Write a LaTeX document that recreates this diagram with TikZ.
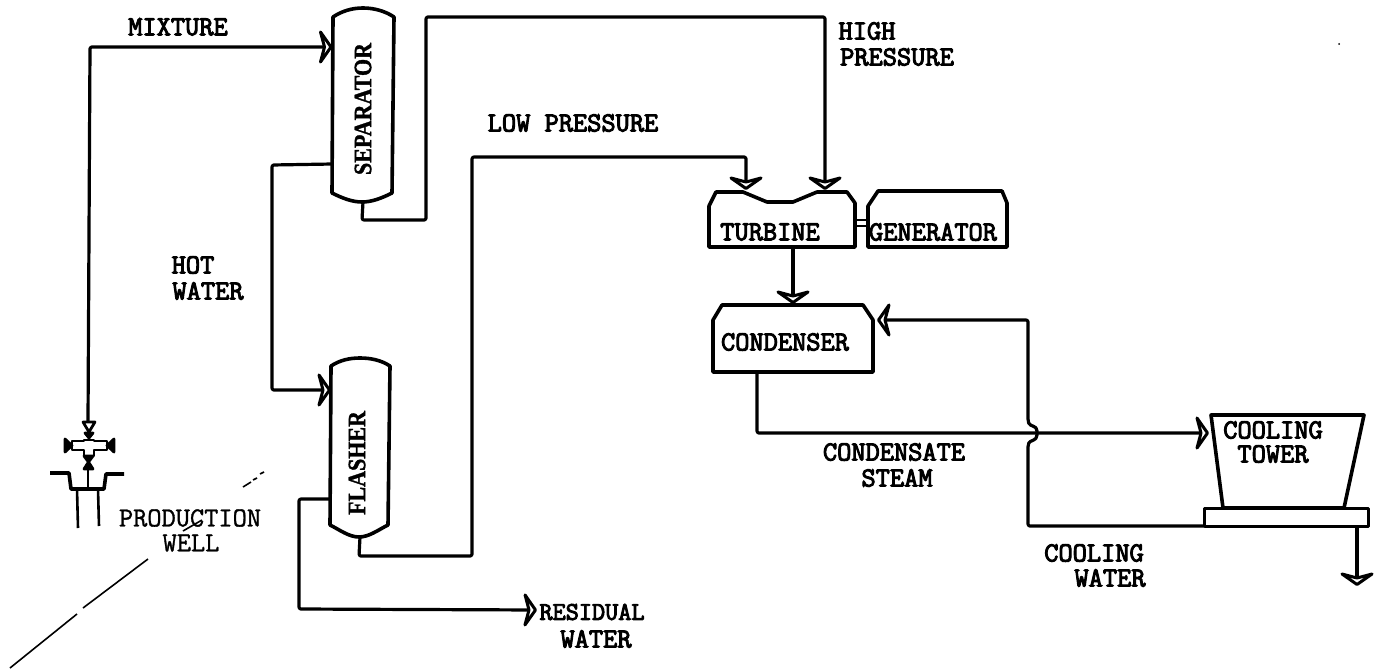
\documentclass[tikz,border=0pt]{standalone}
\usepackage{fontspec}
\newfontfamily\vesselfont{Liberation Serif Bold}[FakeStretch=0.88,FakeBold=1.2]
\newfontfamily\monobold{Latin Modern Mono}[FakeBold=3.6]
\newfontfamily\monoplain{Latin Modern Mono}[FakeBold=1.2]
\usetikzlibrary{arrows.meta}
\pgfdeclarearrow{
  name=Chev,
  setup code={
    \pgfarrowssettipend{0pt}
    \pgfarrowssetlineend{-8pt}
    \pgfarrowssetvisualbackend{-8pt}
    \pgfarrowssetbackend{-13pt}
    \pgfarrowshullpoint{0pt}{0pt}
    \pgfarrowshullpoint{-13pt}{16pt}
    \pgfarrowshullpoint{-13pt}{-16pt}
  },
  drawing code={
    \pgfsetlinewidth{3pt}
    \pgfsetroundjoin
    \pgfpathmoveto{\pgfpoint{-1.5pt}{0pt}}
    \pgfpathlineto{\pgfpoint{-12pt}{15pt}}
    \pgfpathlineto{\pgfpoint{-8pt}{0pt}}
    \pgfpathlineto{\pgfpoint{-12pt}{-15pt}}
    \pgfpathclose
    \pgfusepathqstroke
  },
  defaults={}
}
\tikzset{
  every node/.style={inner sep=0pt,outer sep=0pt},
  pipe/.style={line width=3.2pt,line join=round,rounded corners=2pt},
  outline/.style={line width=3.6pt,line join=round},
  chev/.style={-{Chev[]}},
  slot/.style={rectangle,minimum width=#1},
  lab/.style={font=\fontsize{27.6}{28}\monobold},
  lablight/.style={font=\fontsize{27.6}{28}\monoplain},
  vlab/.style={font=\fontsize{25}{26}\vesselfont,rotate=90},
  crack/.style={line width=1.6pt},
}
\begin{document}
\begin{tikzpicture}[x=1pt,y=-1pt]
\useasboundingbox (0,0) rectangle (1378,669);
% equipment outlines
\draw[outline] (333,17) .. controls (342,11) and (352,8) .. (363,8) .. controls (374,8) and (385,11) .. (394,17) -- (392,193) .. controls (382,198) and (372,202) .. (362,202) .. controls (352,202) and (342,198) .. (332,193) -- cycle;
\draw[outline] (331,366) .. controls (340,360) and (350,358) .. (360,358) .. controls (370,358) and (381,360) .. (390,366) -- (388,525) .. controls (378,530) and (369,537) .. (359,537) .. controls (349,537) and (340,530) .. (330,525) -- cycle;
\draw[outline] (709,247) -- (709,206) -- (716,192) -- (743,192) -- (767,202) -- (793,202) -- (817,192) -- (847,192) -- (855,203) -- (855,247) -- cycle;
\draw[outline] (868,247) -- (868,206) -- (878,191) -- (1002,191) -- (1007,203) -- (1007,247) -- cycle;
\draw[outline] (713,372) -- (713,320) -- (722,305) -- (863,305) -- (873,320) -- (873,372) -- cycle;
\draw[outline] (1211,415) -- (1364,415) -- (1344,508) -- (1223,508) -- cycle;
\draw[outline,line width=3pt] (1204,508) rectangle (1368,526);
% anchors
\node[slot=61pt,minimum height=194pt] (sep) at (363,105) {};
\node[slot=58pt,minimum height=179pt] (fla) at (360,447.5) {};
\node[slot=146pt,minimum height=55pt] (tur) at (782,219.5) {};
\node[slot=139pt,minimum height=56pt] (gen) at (937.5,219) {};
\node[slot=160pt,minimum height=67pt] (con) at (793,338.5) {};
\node[slot=157pt,minimum height=93pt] (tow) at (1287.5,461.5) {};
\node[slot=164pt,minimum height=18pt] (bas) at (1286,517) {};
\node[slot=40pt,minimum height=60pt] (wel) at (88,452) {};
% named ports
\coordinate (sepin) at (sep.west|-0,47);
\coordinate (sepwa) at (sep.west|-0,164);
\coordinate (flain) at (fla.west|-0,390);
\coordinate (flaout) at (fla.west|-0,499);
\coordinate (turlp) at (746,190);
\coordinate (turhp) at (825,190);
\coordinate (conin) at (877,320);
\coordinate (towin) at (tow.west|-0,433);
\coordinate (bleft) at (bas.south west);
\coordinate (drain) at (1357,526);
\coordinate (drainend) at (1357,586);
\coordinate (resend) at (537,610);
% pipes
\draw[pipe,chev] (wel.north) -- (90,47) -- (sepin);
\draw[pipe,chev] (sepwa) -- (272,165) -- (272,390) -- (flain);
\draw[pipe,chev] (sep.south) -- (362,220) -- (426,220) -- (426,17) -- (825,17) -- (turhp);
\draw[pipe,chev] (fla.south) -- (359,556) -- (472,556) -- (472,157) -- (746,157) -- (turlp);
\draw[pipe,chev] (flaout) -- (299,499) -- (299,609) -- (resend);
\draw[pipe,chev] (tur.south-|793,0) -- (793,304);
\draw[pipe,chev] (con.south-|757,0) -- (757,433) -- (towin);
\draw[pipe,chev] (bleft) -- (1028,526) -- (1028,445) .. controls (1030,440) and (1037,441) .. (1037,433) .. controls (1037,425) and (1030,427) .. (1028,421) -- (1028,320) -- (conin);
\draw[pipe,chev] (drain) -- (drainend);
% shaft
\draw[line width=2.4pt] (tur.east|-0,220) -- (gen.west|-0,220);
\draw[line width=2.4pt] (tur.east|-0,226) -- (gen.west|-0,226);
% wellhead
\begin{scope}[line width=2.8pt,line join=round]
\draw (88,450) -- (88,489);
\filldraw[fill=white] (83,422) -- (95,422) -- (89,432) -- cycle;
\filldraw[fill=black] (85,433) -- (93,433) -- (89,438) -- cycle;
\filldraw[fill=white] (84,440) -- (94,440) -- (94,441) -- (107,441) -- (107,450) -- (94,450) -- (94,456) -- (84,456) -- (84,450) -- (72,450) -- (72,441) -- (84,441) -- cycle;
\fill[white] (83,442) rectangle (95,449);
\fill[white] (85,441) rectangle (93,452);
\filldraw[fill=black] (65,439) -- (65,452) -- (72,445.5) -- cycle;
\filldraw[fill=black] (114,439) -- (114,452) -- (107,445.5) -- cycle;
\filldraw[fill=black] (84,456) -- (93,456) -- (88.5,462) -- (93,469) -- (84,469) -- (88.5,462) -- cycle;
\end{scope}
\draw[outline] (50,473) -- (69,473) -- (71,489) -- (104,489) -- (106,474) -- (124,474);
\draw[outline,line width=2.6pt] (77,489) -- (78,528);
\draw[outline,line width=2.6pt] (98,489) -- (99,526);
% crack
\draw[crack] (10,668) -- (77,614);
\draw[crack] (83,608) -- (148,559);
\draw[crack] (183,531) -- (202,520);
\draw[crack] (243,487) -- (251,482);
\draw[crack] (253,480) -- (257,478);
\draw[crack] (260,474) -- (264,472);
% vessel labels
\node[vlab] (tsep) at (363,109) {SEPARATOR};
\node[vlab] (tfla) at (357,463) {FLASHER};
% texts
\node[lab] (t1) at (178,27) {MIXTURE};
\node[lab] (t2) at (867,31) {HIGH};
\node[lab] (t3) at (897,57) {PRESSURE};
\node[lab] (t4) at (573,123) {LOW PRESSURE};
\node[lab] (t5) at (193,265) {HOT};
\node[lab] (t6) at (208,291) {WATER};
\node[lab] (t7) at (770,232) {TURBINE};
\node[lab] (t8) at (933,232) {GENERATOR};
\node[lab] (t9) at (785,342) {CONDENSER};
\node[lab] (t10) at (894,452) {CONDENSATE};
\node[lab] (t11) at (897,478) {STEAM};
\node[lab] (t12) at (1273,430) {COOLING};
\node[lab] (t13) at (1273,454) {TOWER};
\node[lab] (t14) at (1094,553) {COOLING};
\node[lab] (t15) at (1110,578) {WATER};
\node[lab,font=\fontsize{25.5}{26}\monobold] (t16) at (592,612) {RESIDUAL};
\node[lab] (t17) at (596,639) {WATER};
\node[lablight] (t18) at (190,518) {PRODUCTION};
\node[lablight] (t19) at (191,543) {WELL};
% stray speck
\fill (1339,44) circle (1pt);
\end{tikzpicture}
\end{document}
